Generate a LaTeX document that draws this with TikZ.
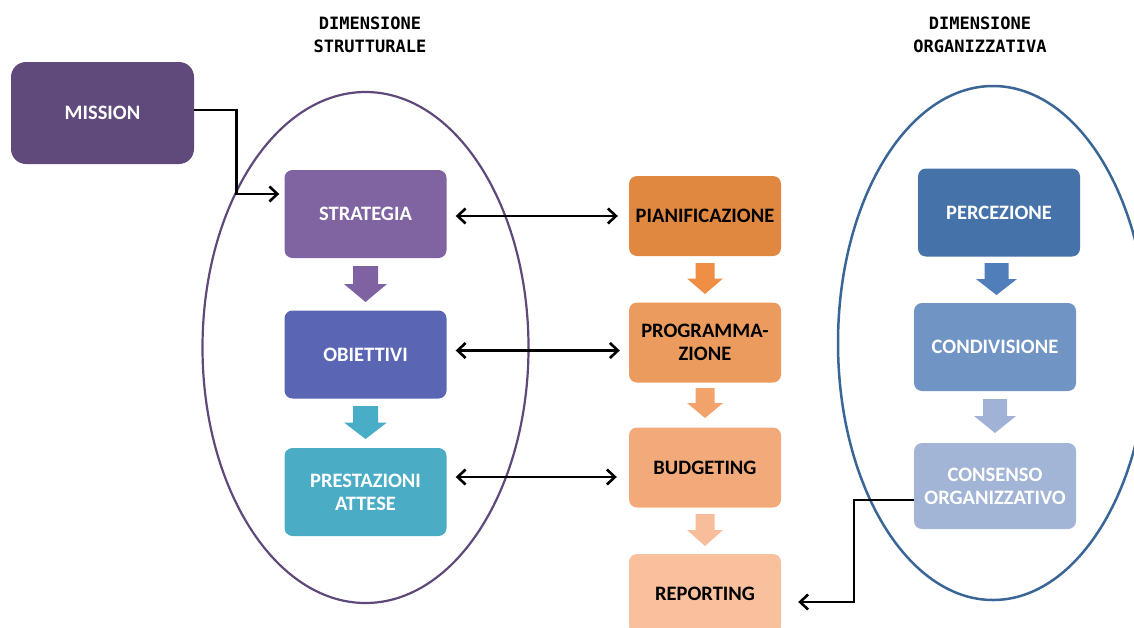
\documentclass[tikz,border=0pt]{standalone}
\usepackage{fontspec}
\setmainfont{Carlito}
\newfontfamily\headfont{DejaVu Sans Mono}
\usepackage{xcolor}
\usepackage{tikz}
\usetikzlibrary{calc}
\usetikzlibrary{arrows.meta}
\usetikzlibrary{positioning}

\definecolor{missionc}{HTML}{604A7B}
\definecolor{strategiac}{HTML}{8064A2}
\definecolor{obiettivic}{HTML}{5A66B3}
\definecolor{prestazionic}{HTML}{4BACC6}
\definecolor{pianificc}{HTML}{E0883F}
\definecolor{programc}{HTML}{EB9B5D}
\definecolor{budgetc}{HTML}{F2AA7B}
\definecolor{reportc}{HTML}{F8C09D}
\definecolor{percezc}{HTML}{4672AA}
\definecolor{condivc}{HTML}{7094C4}
\definecolor{consensc}{HTML}{A2B5D7}
\definecolor{arrpurple}{HTML}{7F62A1}
\definecolor{arrteal}{HTML}{4AADC8}
\definecolor{arrorangeA}{HTML}{EF8F45}
\definecolor{arrorangeB}{HTML}{F2A36C}
\definecolor{arrorangeC}{HTML}{F8BE9C}
\definecolor{arrblueA}{HTML}{4F7EBB}
\definecolor{arrblueB}{HTML}{A0B3D6}
\definecolor{ellpurple}{HTML}{5F497A}
\definecolor{ellblue}{HTML}{3A6597}

\begin{document}
\begin{tikzpicture}[x=1pt,y=-1pt]
			\tikzset{box/.style={shape=rectangle, rounded corners=8pt, align=center, text=white, inner sep=0pt, font=\bfseries\fontsize{20.5}{23}\selectfont, minimum width=162pt, minimum height=88pt}}
			\tikzset{midbox/.style={box, text=black, minimum width=152pt, minimum height=80pt}}
			\tikzset{head/.style={align=center, font=\headfont\bfseries\fontsize{17}{23}\selectfont}}
			\tikzset{flow/.style={line width=2.6pt, -{Straight Barb[length=8pt,width=15pt]}}}
			\tikzset{biflow/.style={line width=2.6pt, {Straight Barb[length=8pt,width=15pt]}-{Straight Barb[length=8pt,width=15pt]}}}
			\useasboundingbox (0,0) rectangle (1134,627);
			\clip (0,0) rectangle (1134,627);
			% the two dimensions
			\draw[ellpurple, line width=2.2pt] (365.5,347.5) ellipse [x radius=163pt, y radius=255.5pt];
			\draw[ellblue, line width=2.5pt] (993,343) ellipse [x radius=155pt, y radius=257pt];
			\node[head] (hstrut) at (370,35) {DIMENSIONE\\STRUTTURALE};
			\node[head] (horg) at (980,35) {DIMENSIONE\\ORGANIZZATIVA};
			% boxes
			\node[box, fill=missionc, rounded corners=15pt, minimum width=183pt, minimum height=102pt] (mission) at (102.5,113) {MISSION};
			\node[box, fill=strategiac] (strategia) at (365.5,214) {STRATEGIA};
			\node[box, fill=obiettivic] (obiettivi) at (365.5,354.5) {OBIETTIVI};
			\node[box, fill=prestazionic] (prestazioni) at (365.5,492) {PRESTAZIONI\\ATTESE};
			\node[midbox, fill=pianificc] (pianif) at (705,216) {PIANIFICAZIONE};
			\node[midbox, fill=programc] (program) at (705,342.5) {PROGRAMMA-\\ZIONE};
			\node[midbox, fill=budgetc] (budget) at (705,467.5) {BUDGETING};
			\node[midbox, fill=reportc] (report) at (705,594) {REPORTING};
			\node[box, fill=percezc] (percez) at (999,212.5) {PERCEZIONE};
			\node[box, fill=condivc] (condiv) at (995,347) {CONDIVISIONE};
			\node[box, fill=consensc, minimum height=86pt] (consens) at (995,486) {CONSENSO\\ORGANIZZATIVO};
			% block arrows
			\foreach \cx/\cy/\hw/\sw/\h/\col in {365.5/266/21.5/12.5/36/arrpurple, 365.5/406/21.5/12.5/33/arrteal,
				705/263/18/9.5/31/arrorangeA, 705/388/18/9.5/30/arrorangeB, 705/514/18/9.5/32/arrorangeC,
				996.5/263/20.5/12/32/arrblueA, 995/399/21/12/34/arrblueB}
				\fill[\col] (\cx-\sw,\cy) -- (\cx+\sw,\cy) -- (\cx+\sw,\cy+\h/2) -- (\cx+\hw,\cy+\h/2) -- (\cx,\cy+\h) -- (\cx-\hw,\cy+\h/2) -- (\cx-\sw,\cy+\h/2) -- cycle;
			% connectors
			\draw[flow, shorten >=5pt] ([yshift=3pt]mission.east) -- ++(42,0) |- ([yshift=20pt]strategia.west);
			\draw[biflow, shorten <=9pt, shorten >=11pt] ([yshift=-2pt]strategia.east) -- ([yshift=-2pt]strategia.east -| pianif.west);
			\draw[biflow, shorten <=9pt, shorten >=9pt] ([yshift=4pt]obiettivi.east) -- ([yshift=4pt]obiettivi.east -| program.west);
			\draw[biflow, shorten <=9pt, shorten >=12pt] ([yshift=15pt]prestazioni.east) -- ([yshift=15pt]prestazioni.east -| budget.west);
			\draw[flow, shorten >=17pt] ([yshift=-14pt]consens.west) -- ++(-60,0) |- ([yshift=-8pt]report.east);
		\end{tikzpicture}
\end{document}
